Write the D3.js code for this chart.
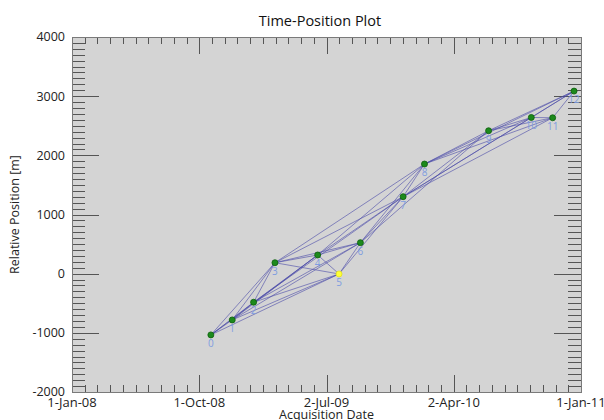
<!DOCTYPE html>
<html>
<head>
<meta charset="utf-8">
<script src="https://cdn.jsdelivr.net/npm/d3@7"></script>
<style>
    body { margin: 0; background: #fff; }
    svg { display: block; }
</style>
</head>
<body>
<div id="chart"></div>
<script>
// acquisitions (date, relative position in m)
const acqDates = ["2008-10-26", "2008-12-11", "2009-01-26", "2009-03-13", "2009-06-13", "2009-07-29",
    "2009-09-13", "2009-12-14", "2010-01-29", "2010-06-16", "2010-09-16", "2010-11-01", "2010-12-17"]
const positions = [-1035, -782, -483, 185, 316, -5, 524, 1301, 1853, 2416, 2640, 2635, 3086]
const masterIndex = 5

// interferometric pairs
const pairs = [
    [0, 1], [0, 2], [0, 3], [0, 4], [0, 5],
    [1, 2], [1, 3], [1, 4], [1, 5], [1, 6],
    [2, 3], [2, 4], [2, 5], [2, 6], [2, 7],
    [3, 4], [3, 5], [3, 6], [3, 7], [3, 8],
    [4, 5], [4, 6], [4, 7], [4, 8],
    [5, 6], [5, 7],
    [6, 7], [6, 8], [6, 9],
    [7, 8], [7, 9], [7, 10], [7, 11], [7, 12],
    [8, 9], [8, 10], [8, 11], [8, 12],
    [9, 10], [9, 11], [9, 12],
    [10, 11], [10, 12],
    [11, 12]
]

const xTickDates = ["2008-01-01", "2008-10-01", "2009-07-02", "2010-04-02", "2011-01-01"]
const xTickLabels = ["1-Jan-08", "1-Oct-08", "2-Jul-09", "2-Apr-10", "1-Jan-11"]
const yTicks = [-2000, -1000, 0, 1000, 2000, 3000, 4000]

const margin = { top: 37, right: 23, bottom: 28, left: 72 }
const width = 604 - margin.left - margin.right
const height = 420 - margin.top - margin.bottom
const font = "'Open Sans', 'Noto Sans', sans-serif"

const parse = d3.utcParse("%Y-%m-%d")
const data = acqDates.map((d, i) => ({ i: i, date: parse(d), pos: positions[i] }))
const majors = xTickDates.map(parse)

const svg = d3.select("#chart")
    .append("svg")
    .attr("width", 604)
    .attr("height", 420)

const g = svg.append("g")
    .attr("transform", "translate(" + margin.left + "," + margin.top + ")")

let x = d3.scaleUtc()
    .domain([majors[0], majors[majors.length - 1]])
    .range([0, width])

let y = d3.scaleLinear()
    .domain([-2000, 4000])
    .range([height, 0])

g.append("rect")
    .attr("width", width)
    .attr("height", height)
    .attr("fill", "#d4d4d4")

// minor ticks: 10 subdivisions between major dates, 100 m on y
let minorX = []
for (let k = 0; k < majors.length - 1; k++) {
    const a = majors[k].getTime(), b = majors[k + 1].getTime()
    for (let s = 1; s < 10; s++) minorX.push(new Date(a + (b - a) * s / 10))
}
const minorY = d3.range(-2000, 4001, 100).filter(v => v % 1000 !== 0)

const tickColor = "#555"
const ticks = g.append("g").attr("stroke", tickColor).attr("stroke-width", 1)

const xTick = (dates, len) => {
    dates.forEach(d => {
        const px = Math.round(x(d)) + 0.5
        ticks.append("line").attr("x1", px).attr("x2", px).attr("y1", height).attr("y2", height - len)
        ticks.append("line").attr("x1", px).attr("x2", px).attr("y1", 0).attr("y2", len)
    })
}
const yTick = (vals, len) => {
    vals.forEach(v => {
        const py = Math.round(y(v)) + 0.5
        ticks.append("line").attr("x1", 0).attr("x2", len).attr("y1", py).attr("y2", py)
        ticks.append("line").attr("x1", width).attr("x2", width - len).attr("y1", py).attr("y2", py)
    })
}
xTick(minorX, 7)
xTick(majors, 17)
yTick(minorY, 13)
yTick(yTicks, 27)

// pair lines
g.append("g")
    .selectAll("line")
    .data(pairs)
    .enter()
    .append("line")
    .attr("x1", d => x(data[d[0]].date))
    .attr("y1", d => y(data[d[0]].pos))
    .attr("x2", d => x(data[d[1]].date))
    .attr("y2", d => y(data[d[1]].pos))
    .attr("stroke", "#4a4aa8")
    .attr("stroke-opacity", 0.6)
    .attr("stroke-width", 1)

// acquisitions
g.append("g")
    .selectAll("circle")
    .data(data)
    .enter()
    .append("circle")
    .attr("cx", d => x(d.date))
    .attr("cy", d => y(d.pos))
    .attr("r", 3)
    .attr("fill", d => d.i === masterIndex ? "#ffff33" : "#1c8a1c")
    .attr("stroke", d => d.i === masterIndex ? "#e0e020" : "#0d5e0d")
    .attr("stroke-width", 0.8)

g.append("g")
    .selectAll("text")
    .data(data)
    .enter()
    .append("text")
    .attr("x", d => x(d.date))
    .attr("y", d => y(d.pos) + 12)
    .attr("text-anchor", "middle")
    .attr("font-family", font)
    .attr("font-size", 10)
    .attr("fill", "#7f9de0")
    .text(d => d.i)

g.append("rect")
    .attr("x", 0.5)
    .attr("y", 0.5)
    .attr("width", width)
    .attr("height", height)
    .attr("fill", "none")
    .attr("stroke", "#7a7a7a")

// axis labels
g.append("g")
    .selectAll("text")
    .data(majors)
    .enter()
    .append("text")
    .attr("x", d => x(d))
    .attr("y", height + 15)
    .attr("text-anchor", "middle")
    .attr("font-family", font)
    .attr("font-size", 13)
    .attr("fill", "#222")
    .text((d, i) => xTickLabels[i])

g.append("g")
    .selectAll("text")
    .data(yTicks)
    .enter()
    .append("text")
    .attr("x", -7)
    .attr("y", d => y(d))
    .attr("dy", "0.35em")
    .attr("text-anchor", "end")
    .attr("font-family", font)
    .attr("font-size", 12.5)
    .attr("fill", "#222")
    .text(d => d)

svg.append("text")
    .attr("x", 320)
    .attr("y", 26)
    .attr("text-anchor", "middle")
    .attr("font-family", font)
    .attr("font-size", 14.5)
    .attr("fill", "#111")
    .text("Time-Position Plot")

svg.append("text")
    .attr("x", margin.left + width / 2)
    .attr("y", 419)
    .attr("text-anchor", "middle")
    .attr("font-family", font)
    .attr("font-size", 12.5)
    .attr("fill", "#222")
    .text("Acquisition Date")

svg.append("text")
    .attr("transform", "translate(19," + (margin.top + height / 2) + ") rotate(-90)")
    .attr("text-anchor", "middle")
    .attr("font-family", font)
    .attr("font-size", 12.5)
    .attr("fill", "#222")
    .text("Relative Position [m]")
</script>
</body>
</html>
